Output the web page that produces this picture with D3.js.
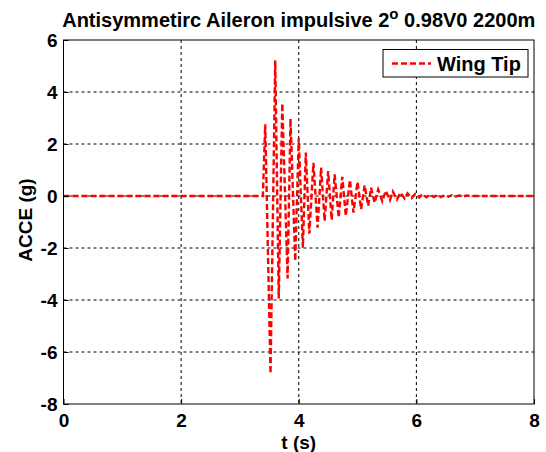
<!DOCTYPE html>
<html>
<head>
<meta charset="utf-8">
<script src="https://cdn.jsdelivr.net/npm/d3@7"></script>
<style>
  body { margin: 0; background: #fff; }
  svg { display: block; font-family: "Liberation Sans", Arial, sans-serif; }
</style>
</head>
<body>
<div id="okvir"></div>
<script>
// vremena (s) tocaka krivulje - vrhovi i dolovi ocitani sa slike
const vrijeme = [0, 3.39, 3.43, 3.52, 3.60, 3.66, 3.72, 3.81, 3.86, 3.94, 4.00, 4.07, 4.12, 4.18,
  4.25, 4.32, 4.38, 4.44, 4.50, 4.56, 4.61, 4.68, 4.74, 4.80, 4.87, 4.93, 5.00, 5.06, 5.12,
  5.18, 5.23, 5.29, 5.35, 5.42, 5.48, 5.55, 5.60, 5.67, 5.73, 5.80, 5.85, 5.92, 5.98, 6.05,
  6.10, 6.17, 6.23, 6.30, 6.35, 6.42, 6.48, 6.55, 6.60, 6.67, 6.73, 6.80, 6.85, 6.92, 8];
// ubrzanje (g)
const ubrzanje = [0, 0, 2.76, -6.83, 5.22, -3.94, 3.56, -3.17, 2.97, -2.5, 2.22, -1.99, 1.67, -1.45,
  1.28, -1.22, 1.09, -0.96, 0.96, -0.92, 0.83, -0.83, 0.74, -0.77, 0.62, -0.64, 0.54, -0.51, 0.41,
  -0.38, 0.32, -0.26, 0.25, -0.2, 0.2, -0.16, 0.17, -0.13, 0.13, -0.1, 0.1, -0.08, 0.08, -0.06,
  0.07, -0.05, 0.05, -0.04, 0.05, -0.04, 0.04, -0.03, 0.03, -0.02, 0.02, -0.02, 0.02, 0, 0];

const xTicks = [0, 2, 4, 6, 8];
const yTicks = [6, 4, 2, 0, -2, -4, -6, -8];
const naslov = "Antisymmetirc Aileron impulsive 2";
const naslovKraj = " 0.98V0 2200m";
const legenda = "Wing Tip";

const dimenzije = {
  sirina: 546,
  visina: 452,
  margine: { top: 40, right: 12, bottom: 48, left: 63.5 }
};
dimenzije.grSirina = dimenzije.sirina - dimenzije.margine.left - dimenzije.margine.right;
dimenzije.grVisina = dimenzije.visina - dimenzije.margine.top - dimenzije.margine.bottom;

const podatci = vrijeme.map((t, i) => ({ t: t, a: ubrzanje[i] }));

const okvir = d3.select("#okvir").append("svg")
  .attr("width", dimenzije.sirina)
  .attr("height", dimenzije.visina);

const granice = okvir.append("g")
  .attr("transform", `translate(${dimenzije.margine.left},${dimenzije.margine.top})`);

const xSkala = d3.scaleLinear().domain([0, 8]).range([0, dimenzije.grSirina]);
const ySkala = d3.scaleLinear().domain([-8, 6]).range([dimenzije.grVisina, 0]);

// mreza
granice.append("g")
  .selectAll("line")
  .data(xTicks.slice(1, -1))
  .join("line")
    .attr("x1", d => xSkala(d)).attr("x2", d => xSkala(d))
    .attr("y1", 0).attr("y2", dimenzije.grVisina)
    .attr("stroke", "#000").attr("stroke-width", 1)
    .attr("stroke-dasharray", "3,3");

granice.append("g")
  .selectAll("line")
  .data(yTicks.slice(1, -1))
  .join("line")
    .attr("x1", 0).attr("x2", dimenzije.grSirina)
    .attr("y1", d => ySkala(d)).attr("y2", d => ySkala(d))
    .attr("stroke", "#000").attr("stroke-width", 1)
    .attr("stroke-dasharray", "3,3");

// krivulja
const linija = d3.line()
  .x(d => xSkala(d.t))
  .y(d => ySkala(d.a));

granice.append("path")
  .datum(podatci)
  .attr("d", linija)
  .attr("fill", "none")
  .attr("stroke", "#ff0000")
  .attr("stroke-width", 2.4)
  .attr("stroke-dasharray", "6,3");

// okvir grafa
granice.append("rect")
  .attr("x", 0).attr("y", 0)
  .attr("width", dimenzije.grSirina)
  .attr("height", dimenzije.grVisina)
  .attr("fill", "none")
  .attr("stroke", "#000")
  .attr("stroke-width", 1);

// osi
const xOs = granice.append("g")
  .attr("transform", `translate(0,${dimenzije.grVisina})`)
  .call(d3.axisBottom(xSkala).tickValues(xTicks).tickSize(-5).tickPadding(11).tickFormat(d3.format("d")));
const yOs = granice.append("g")
  .call(d3.axisLeft(ySkala).tickValues(yTicks).tickSize(-5).tickPadding(6).tickFormat(d => d < 0 ? "-" + Math.abs(d) : d));

[xOs, yOs].forEach(os => {
  os.select(".domain").remove();
  os.selectAll(".tick line").attr("stroke", "#000");
  os.selectAll(".tick text")
    .attr("fill", "#000")
    .style("font-size", "19px")
    .style("font-weight", "bold")
    .style("font-family", "'Liberation Sans', Arial, sans-serif");
});
xOs.selectAll(".tick text").attr("dy", "0.62em");

xOs.append("text")
  .attr("x", dimenzije.grSirina / 2)
  .attr("y", 45)
  .attr("fill", "#000")
  .attr("text-anchor", "middle")
  .style("font-size", "19px")
  .style("font-weight", "bold")
  .text("t (s)");

yOs.append("text")
  .attr("transform", "rotate(-90)")
  .attr("x", -dimenzije.grVisina / 2 + 2)
  .attr("y", -32)
  .attr("fill", "#000")
  .attr("text-anchor", "middle")
  .style("font-size", "19px")
  .style("font-weight", "bold")
  .text("ACCE (g)");

// naslov
const tekst = okvir.append("text")
  .attr("x", dimenzije.margine.left + dimenzije.grSirina / 2)
  .attr("y", 27)
  .attr("text-anchor", "middle")
  .attr("fill", "#000")
  .style("font-size", "20px")
  .style("font-weight", "bold");
tekst.append("tspan").text(naslov);
tekst.append("tspan").attr("dy", -8).style("font-size", "15px").text("o");
tekst.append("tspan").attr("dy", 8).text(naslovKraj);

// legenda
const leg = granice.append("g")
  .attr("transform", `translate(${383 - dimenzije.margine.left},${49.5 - dimenzije.margine.top})`);
leg.append("rect")
  .attr("width", 145).attr("height", 27.5)
  .attr("fill", "#fff").attr("stroke", "#000").attr("stroke-width", 1);
leg.append("line")
  .attr("x1", 9).attr("x2", 48).attr("y1", 14).attr("y2", 14)
  .attr("stroke", "#ff0000").attr("stroke-width", 2.4)
  .attr("stroke-dasharray", "6,3");
leg.append("text")
  .attr("x", 54).attr("y", 21)
  .attr("fill", "#000")
  .style("font-size", "20px")
  .style("font-weight", "bold")
  .text(legenda);
</script>
</body>
</html>
